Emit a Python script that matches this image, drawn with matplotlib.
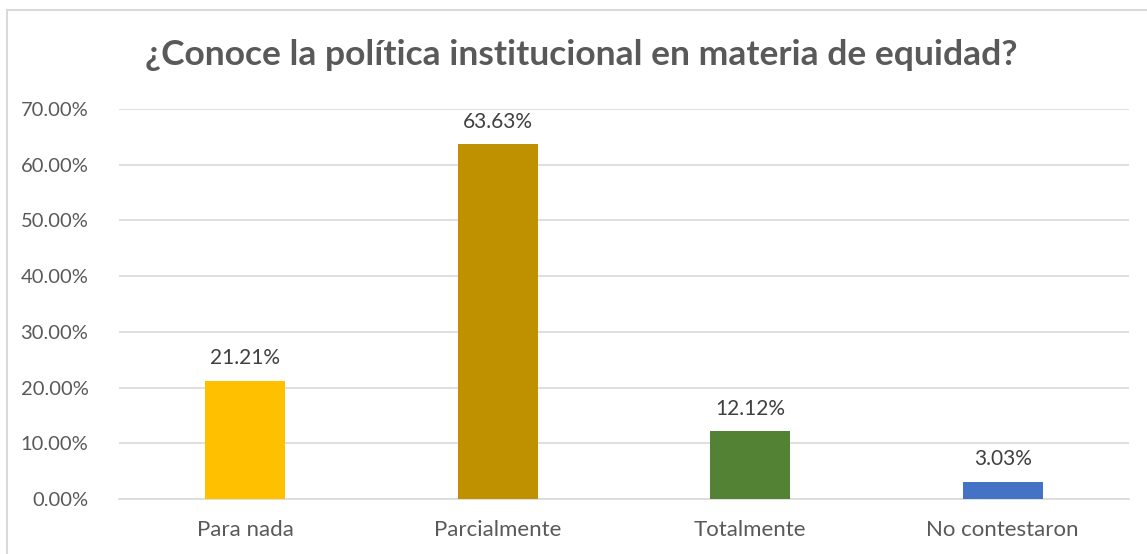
import matplotlib
matplotlib.use("Agg")
import matplotlib.pyplot as plt
from matplotlib.patches import Rectangle
from matplotlib.ticker import MultipleLocator, FuncFormatter

categories = ["Para nada", "Parcialmente", "Totalmente", "No contestaron"]
values = [21.21, 63.63, 12.12, 3.03]
colors = ["#FFC000", "#BF9000", "#548235", "#4472C4"]
title = "¿Conoce la política institucional en materia de equidad?"

plt.rcParams['font.family'] = ['Lato', 'DejaVu Sans']

fig = plt.figure(figsize=(11.47, 5.54), dpi=100)
ax = fig.add_axes([0.1037, 0.0993, 0.8806, 0.704])

# outer chart border
fig.patches.append(Rectangle((7 / 1147, -0.05), 1.2, 0.05 + (554 - 10) / 554,
                             transform=fig.transFigure, fill=False,
                             edgecolor="#D9D9D9", linewidth=1.5))

x = range(len(categories))
bars = ax.bar(x, values, width=0.317, color=colors, zorder=3)

for b, v in zip(bars, values):
    ax.text(b.get_x() + b.get_width() / 2, v + 2.3, f"{v:.2f}%",
            ha="center", va="bottom", fontsize=15, color="#404040")

ax.set_xlim(-0.5, len(categories) - 0.5)
ax.set_ylim(0, 70)
ax.yaxis.set_major_locator(MultipleLocator(10))
ax.yaxis.set_major_formatter(FuncFormatter(lambda v, p: f"{v:.2f}%"))
ax.set_xticks(list(x))
ax.set_xticklabels(categories)
ax.tick_params(axis="both", length=0, labelcolor="#595959")
ax.tick_params(axis="x", pad=15, labelsize=16)
ax.tick_params(axis="y", pad=22, labelsize=14.5)
ax.grid(axis="y", color="#D9D9D9", linewidth=1.2, zorder=0)
for s in ["top", "right", "left"]:
    ax.spines[s].set_visible(False)
ax.spines["bottom"].set_color("#D9D9D9")
ax.spines["bottom"].set_linewidth(1.2)

fig.text(0.507, 0.9, title, ha="center", va="center", fontsize=25.5,
         fontweight="bold", color="#595959")

fig.savefig("out.png", dpi=100, facecolor="white")
